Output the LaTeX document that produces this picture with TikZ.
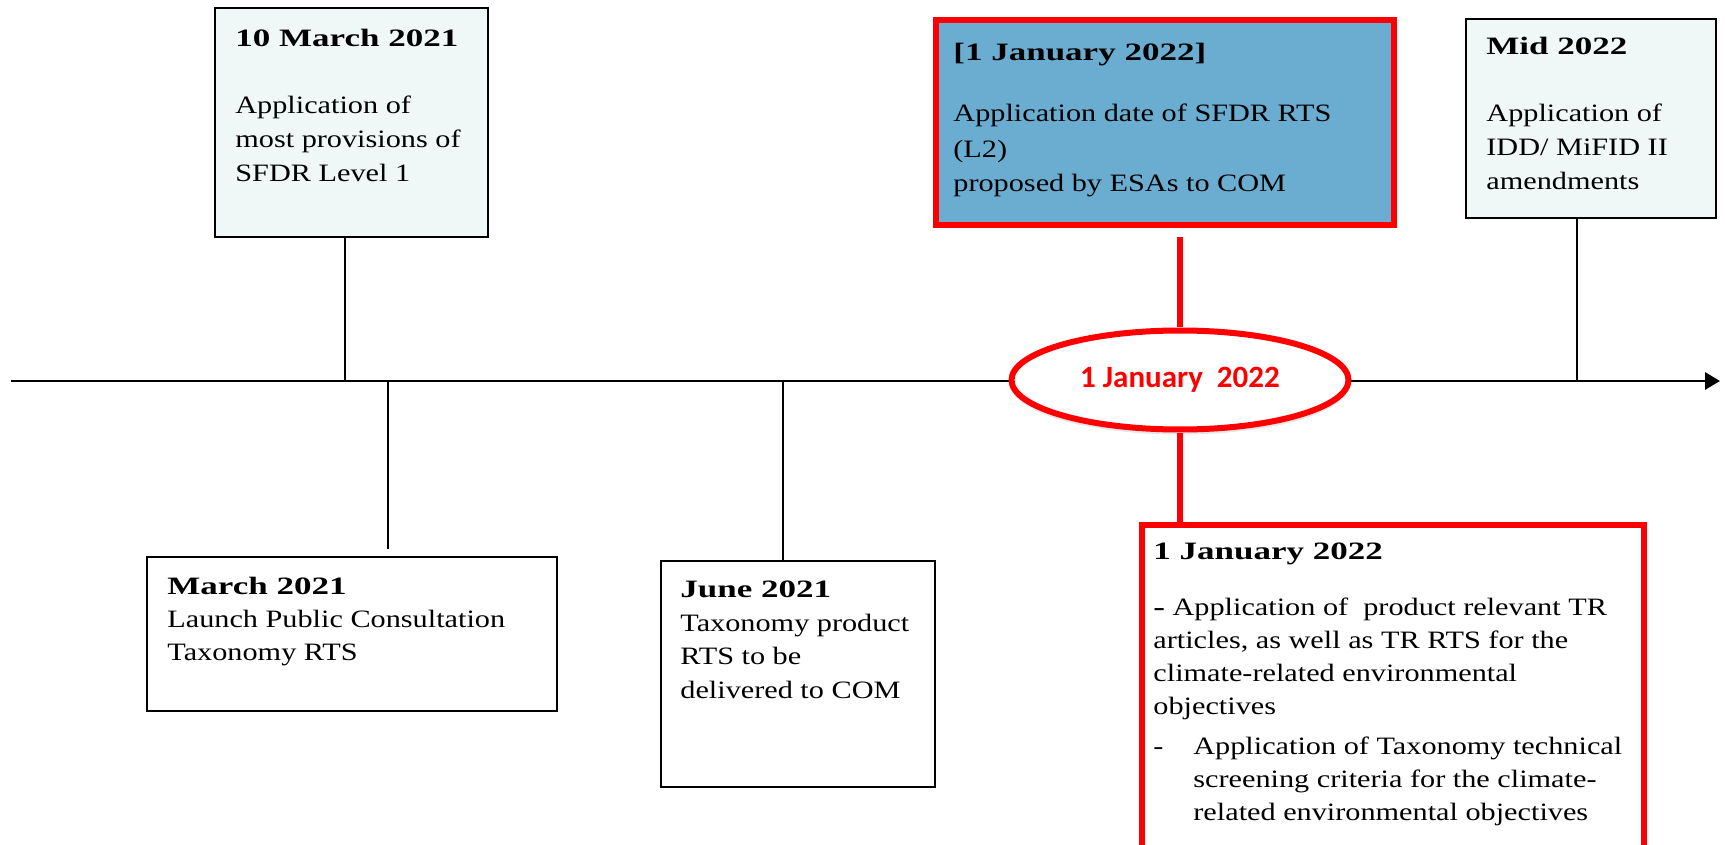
\documentclass[tikz,border=0pt]{standalone}
\usepackage{fontspec}
\setmainfont{Liberation Serif}[FakeStretch=1.21, BoldFeatures={FakeStretch=1.4}]
\newfontfamily\calibri{Carlito}
\usetikzlibrary{positioning,shapes.geometric,arrows.meta,shadows}

\definecolor{paleteal}{HTML}{EFF7F7}
\definecolor{skyblue}{HTML}{6AADD1}
\definecolor{alertred}{HTML}{FF0000}

\tikzset{
  evbox/.style={draw, rectangle, line width=1.3pt, inner sep=0pt, outer sep=0pt,
    anchor=north west},
  keybox/.style={evbox, draw=alertred, line width=3pt},
  evtext/.style={align=left, inner sep=0pt, anchor=base west,
    font=\fontsize{12.5}{16.5}\selectfont},
  tick/.style={line width=1pt},
  redtick/.style={draw=alertred, line width=3pt},
}

\begin{document}
\begin{tikzpicture}[x=0.5pt, y=-0.5pt]
  \useasboundingbox (0,0) rectangle (1725,845);

  % time axis
  \coordinate (axstart) at (11,381);
  \coordinate (axend) at (1720,381);
  \draw[line width=1.4pt, -{Triangle[length=7.5pt,width=8.5pt]}] (axstart) -- (axend);

  % milestones above the axis (text anchored on its last line)
  \node[evbox, fill=paleteal, minimum width=136.5pt, minimum height=114.5pt]
    (mar10) at (215,8) {};
  \node[evtext, font=\fontsize{12.5}{17}\selectfont] (mar10txt)
    at ([shift={(20,174)}]mar10.north west)
    {\textbf{10 March 2021}\\[16.5pt]
     Application of\\
     most provisions of\\
     SFDR Level 1};

  \node[keybox, fill=skyblue, minimum width=229pt, minimum height=102.5pt]
    (jan22rts) at (936,20) {};
  \node[evtext, font=\fontsize{12.5}{17.5}\selectfont] (jan22rtstxt)
    at ([shift={(17,172)}]jan22rts.north west)
    {\textbf{[1 January 2022]}\\[13.5pt]
     Application date of SFDR RTS\\
     (L2)\\
     proposed by ESAs to COM};

  \node[evbox, fill=paleteal, minimum width=125pt, minimum height=99.5pt]
    (mid22) at (1466,19) {};
  \node[evtext, font=\fontsize{12.5}{17}\selectfont] (mid22txt)
    at ([shift={(20,171)}]mid22.north west)
    {\textbf{Mid 2022}\\[16.5pt]
     Application of\\
     IDD/ MiFID II\\
     amendments};

  % milestones below the axis
  \node[evbox, minimum width=205pt, minimum height=77pt]
    (mar21) at (147,557) {};
  \node[evtext] (mar21txt)
    at ([shift={(20,103)}]mar21.north west)
    {\textbf{March 2021}\\
     Launch Public Consultation\\
     Taxonomy RTS};

  \node[evbox, minimum width=137pt, minimum height=113pt]
    (jun21) at (661,561) {};
  \node[evtext, font=\fontsize{12.5}{16.7}\selectfont] (jun21txt)
    at ([shift={(19,137)}]jun21.north west)
    {\textbf{June 2021}\\
     Taxonomy product\\
     RTS to be\\
     delivered to COM};

  \node[keybox, fill=white, minimum width=251pt, minimum height=167pt]
    (jan22tr) at (1142,525) {};
  \node[evtext] (jan22trtxt)
    at ([shift={(11,295)}]jan22tr.north west)
    {\textbf{1 January 2022}\\[11.3pt]
     \textbf{-} Application of\ \ product relevant TR\\
     articles, as well as TR RTS for the\\
     climate-related environmental\\
     objectives\\[3.3pt]
     \makebox[20pt][l]{-}Application of Taxonomy technical\\
     \hspace*{20pt}screening criteria for the climate-\\
     \hspace*{20pt}related environmental objectives};

  % central date on the axis
  \node[ellipse, draw=alertred, fill=white, line width=3pt,
        minimum width=168.5pt, minimum height=49.5pt,
        drop shadow={shadow xshift=0pt, shadow yshift=-2.5pt, opacity=0.2},
        text=alertred, font=\calibri\bfseries\fontsize{15.5}{18}\selectfont]
    (jan22) at (1180,380) {1 January\ \ 2022};

  % connectors
  \draw[tick] ([xshift=-3.25pt]mar10.south) -- ([xshift=-3.25pt]mar10.south |- axstart);
  \draw[tick] ([xshift=-7pt]mid22.south) -- ([xshift=-7pt]mid22.south |- axstart);
  \coordinate (mar21top) at ([shift={(36,-8)}]mar21.north);
  \draw[tick] (mar21top |- axstart) -- (mar21top);
  \coordinate (jun21top) at ([xshift=-7.5pt]jun21.north);
  \draw[tick] (jun21top |- axstart) -- (jun21top);
  \coordinate (rtsfoot) at ([yshift=-6pt]jan22rts.south);
  \draw[redtick] (rtsfoot -| jan22.north) -- (jan22.north);
  \draw[redtick] (jan22.south) -- (jan22.south |- jan22tr.north);
\end{tikzpicture}
\end{document}
